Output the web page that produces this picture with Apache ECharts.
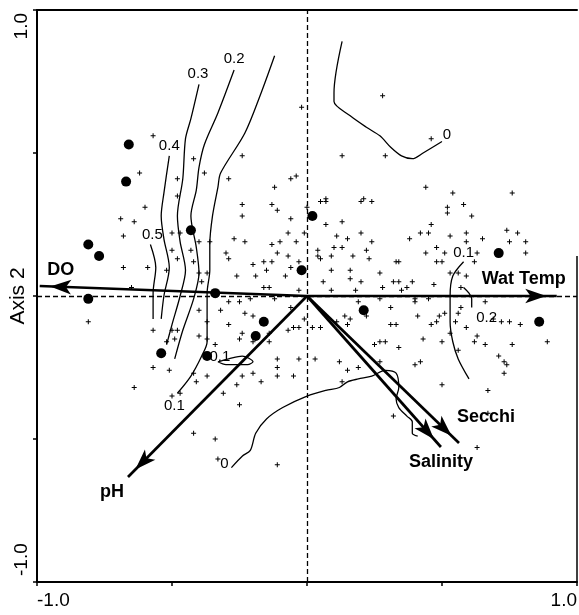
<!DOCTYPE html>
<html>
<head>
<meta charset="utf-8">
<script src="https://cdn.jsdelivr.net/npm/echarts@6/dist/echarts.min.js"></script>
<style>
  html, body { margin: 0; padding: 0; background: #fff; }
  #c { width: 579px; height: 615px; }
</style>
</head>
<body>
<div id="c"></div>
<script>
// ---- axis settings ----
const axisMin = -1, axisMax = 1, tickStep = 0.5;
const xEndLabels = ['-1.0', '1.0'];
const yEndLabels = ['-1.0', '1.0'];
const xName = 'Axis 1', yName = 'Axis 2';

// ---- sample scores (+) on CCA axes 1 and 2 ----
const sites = [
  [-0.57,0.56],[-0.42,0.48],[-0.62,0.43],[-0.48,0.41],[-0.60,0.31],[-0.48,0.35],[-0.69,0.27],[-0.64,0.26],
  [-0.68,0.21],[-0.50,0.22],[-0.47,0.22],[-0.50,0.16],[-0.48,0.13],[-0.43,0.16],[-0.42,0.12],[-0.40,0.08],
  [-0.52,0.09],[-0.68,0.10],[-0.65,0.03],[-0.40,0.19],[-0.40,-0.05],[-0.57,-0.12],[-0.50,-0.12],[-0.48,-0.12],
  [-0.49,-0.15],[-0.52,-0.16],[-0.57,-0.25],[-0.51,-0.26],[-0.42,-0.27],[-0.64,-0.32],[-0.47,-0.34],[-0.41,-0.30],
  [-0.40,-0.14],[-0.59,0.10],[-0.81,-0.09],[-0.50,-0.35],[-0.42,-0.48],
  [-0.02,0.66],[-0.24,0.49],[-0.29,0.41],[-0.12,0.38],[-0.06,0.41],[-0.04,0.42],[0.07,0.34],[0.21,0.34],
  [0.13,0.49],[0.29,0.49],[0.28,0.70],[-0.38,0.43],
  [0.46,0.55],[0.44,0.38],[0.54,0.36],[0.76,0.36],
  [-0.24,0.32],[-0.13,0.32],[-0.11,0.30],[0.00,0.31],[0.05,0.33],[0.07,0.33],[0.20,0.33],[0.24,0.33],
  [-0.24,0.28],[-0.06,0.27],[0.07,0.25],[0.13,0.26],[-0.07,0.22],[-0.01,0.22],[-0.27,0.20],[-0.23,0.19],
  [-0.13,0.18],[-0.10,0.19],[-0.04,0.19],[0.11,0.21],[0.15,0.20],[0.20,0.22],[0.24,0.19],[0.10,0.17],
  [0.13,0.17],[0.04,0.16],[-0.30,0.15],[-0.29,0.13],[-0.11,0.15],[-0.07,0.14],[0.04,0.14],[0.05,0.13],
  [0.09,0.14],[0.17,0.14],[0.22,0.16],[0.23,0.13],[0.33,0.12],[-0.20,0.11],[-0.16,0.12],[-0.15,0.09],
  [-0.13,0.12],[-0.06,0.10],[-0.03,0.12],[-0.19,0.07],[-0.08,0.07],[0.09,0.09],[0.16,0.09],[0.27,0.08],
  [-0.26,0.07],[0.06,0.05],[0.16,0.06],[0.20,0.05],[0.32,0.05],[-0.14,0.03],[-0.16,0.03],[-0.03,0.02],
  [0.09,0.02],[0.18,0.02],[0.28,0.03],[-0.25,-0.02],[-0.21,-0.01],[-0.12,-0.01],[-0.29,-0.02],[0.19,-0.02],
  [0.27,-0.01],[0.31,-0.04],[-0.32,-0.05],[-0.23,-0.06],[-0.20,-0.07],[-0.06,-0.04],[-0.01,-0.08],[0.02,-0.11],
  [0.05,-0.11],[-0.07,-0.12],[-0.05,-0.11],[-0.03,-0.11],[0.14,-0.07],[0.16,-0.08],[0.22,-0.07],[0.11,-0.09],
  [0.15,-0.10],[-0.24,-0.13],[-0.37,-0.09],[-0.29,-0.10],[-0.14,-0.13],[-0.20,-0.16],[-0.25,-0.15],[-0.14,-0.16],
  [-0.34,-0.17],[0.31,-0.10],[0.33,-0.10],[0.25,-0.17],[0.27,-0.16],[0.29,-0.16],[0.34,-0.18],[-0.11,-0.22],
  [-0.03,-0.22],[0.03,-0.22],[0.12,-0.23],[0.19,-0.25],[0.15,-0.26],[-0.24,-0.28],[-0.20,-0.27],[-0.11,-0.25],
  [-0.05,-0.28],[-0.37,-0.28],[-0.26,-0.31],[-0.17,-0.30],[0.13,-0.30],[-0.31,-0.34],[-0.11,-0.28],[0.27,-0.23],
  [-0.37,0.08],[-0.39,0.05],[-0.36,0.19],[-0.37,-0.15],
  [-0.25,-0.38],[-0.34,-0.50],[-0.33,-0.57],[-0.11,-0.59],[0.32,-0.42],
  [0.52,0.31],[0.52,0.29],[0.58,0.32],[0.61,0.28],[0.46,0.25],[0.42,0.22],[0.45,0.22],[0.38,0.20],
  [0.53,0.21],[0.59,0.22],[0.59,0.19],[0.65,0.20],[0.74,0.23],[0.78,0.22],[0.75,0.19],[0.81,0.19],
  [0.81,0.15],[0.44,0.15],[0.48,0.17],[0.51,0.15],[0.63,0.15],[0.48,0.12],[0.50,0.12],[0.62,0.12],
  [0.34,0.12],[0.34,0.05],[0.39,0.05],[0.37,0.03],[0.35,0.02],[0.47,0.04],[0.53,0.08],[0.56,0.08],
  [0.59,0.07],[0.57,0.03],[0.40,-0.01],[0.40,-0.02],[0.45,-0.01],[0.41,-0.07],[0.49,-0.07],[0.51,-0.06],
  [0.56,-0.06],[0.57,-0.04],[0.66,-0.02],[0.69,-0.08],[0.72,-0.09],[0.75,-0.09],[0.79,-0.10],[0.46,-0.10],
  [0.48,-0.09],[0.55,-0.09],[0.59,-0.11],[0.43,-0.15],[0.50,-0.16],[0.63,-0.14],[0.62,-0.16],[0.66,-0.17],
  [0.76,-0.17],[0.89,-0.16],[0.53,-0.13],[0.56,-0.19],[0.40,-0.24],[0.42,-0.23],[0.71,-0.21],[0.73,-0.23],
  [0.74,-0.24],[0.73,-0.27],[0.50,-0.31],[0.67,-0.33],
  [0.63,-0.53],[0.67,-0.41]
];

// ---- centroids (filled circles) ----
const centroids = [
  [-0.66,0.53],[-0.67,0.40],[-0.81,0.18],[-0.77,0.14],[-0.81,-0.01],[-0.54,-0.20],[-0.43,0.23],[-0.34,0.01],
  [-0.16,-0.09],[-0.19,-0.14],[-0.37,-0.21],[0.02,0.28],[-0.02,0.09],[0.21,-0.05],[0.71,0.15],[0.86,-0.09]
];

// ---- environmental vectors ----
const envNames = ['DO', 'Wat Temp', 'pH', 'Secchi', 'Salinity'];
const envX = [-0.99, 0.925, -0.663, 0.563, 0.496];
const envY = [0.035, 0.0, -0.633, -0.514, -0.528];

// ---- isolines of the fitted response surface ----
const iso05 = [[-0.58,0.18],[-0.56,0.10],[-0.57,0.01],[-0.57,-0.08]];
const iso04 = [[-0.51,0.49],[-0.53,0.36],[-0.54,0.28],[-0.53,0.20],[-0.51,0.10],[-0.53,0.00],[-0.54,-0.08]];
const iso03 = [[-0.40,0.74],[-0.43,0.62],[-0.45,0.55],[-0.46,0.41],[-0.48,0.28],[-0.47,0.19],[-0.45,0.09],
               [-0.47,0.00],[-0.50,-0.10],[-0.52,-0.17]];
const iso02 = [[-0.27,0.79],[-0.33,0.64],[-0.38,0.53],[-0.40,0.45],[-0.41,0.37],[-0.43,0.28],[-0.41,0.17],
               [-0.40,0.08],[-0.42,-0.01],[-0.46,-0.12],[-0.49,-0.22]];
const iso01 = [[-0.12,0.84],[-0.17,0.71],[-0.23,0.57],[-0.32,0.43],[-0.33,0.38],[-0.35,0.28],[-0.36,0.18],
               [-0.36,0.09],[-0.37,0.01],[-0.37,-0.07],[-0.37,-0.16],[-0.39,-0.21],[-0.43,-0.28],[-0.48,-0.34]];
const iso01Loop = [[-0.33,-0.23],[-0.29,-0.22],[-0.24,-0.21],[-0.20,-0.23],[-0.22,-0.24],[-0.26,-0.24],
                   [-0.30,-0.24],[-0.33,-0.23]];
const iso0Low = [[-0.28,-0.60],[-0.24,-0.56],[-0.21,-0.54],[-0.19,-0.48],[-0.15,-0.43],[-0.09,-0.39],
                 [0.00,-0.35],[0.07,-0.33],[0.12,-0.32],[0.15,-0.30],[0.19,-0.29],[0.24,-0.28],[0.29,-0.26],
                 [0.33,-0.27],[0.34,-0.32],[0.33,-0.36],[0.34,-0.39],[0.37,-0.42],[0.39,-0.44],[0.39,-0.48],
                 [0.41,-0.49]];
const iso0High = [[0.13,0.89],[0.10,0.71],[0.10,0.68],[0.16,0.63],[0.22,0.59],[0.27,0.56],[0.31,0.52],
                  [0.35,0.49],[0.39,0.48],[0.43,0.50],[0.50,0.54]];
const iso01Right = [[0.58,0.12],[0.54,0.07],[0.53,0.00],[0.53,-0.09],[0.54,-0.16],[0.56,-0.22],[0.60,-0.29]];
const iso02Right = [[0.58,0.03],[0.60,0.01],[0.61,-0.01],[0.61,-0.04]];

const isoLines = [
  { pts: iso05,      level: '0.5', at: 'start', off: [2, -10] },
  { pts: iso04,      level: '0.4', at: 'start', off: [0, -10] },
  { pts: iso03,      level: '0.3', at: 'start', off: [-1, -11] },
  { pts: iso02,      level: '0.2', at: 'start', off: [0, -11] },
  { pts: iso01,      level: '0.1', at: 'end',   off: [-3, 13] },
  { pts: iso01Loop,  level: '0.1', at: 'start', off: [2, -5] },
  { pts: iso0Low,    level: '0',   at: 'start', off: [-7, -4] },
  { pts: iso0High,   level: '0',   at: 'end',   off: [5, -7] },
  { pts: iso01Right, level: '0.1', at: 'start', off: [0, -9] },
  { pts: iso02Right, level: '0.2', at: 'end',   off: [15, 10] }
];

// label offsets (px) of vector names from their arrow tips
const envLabelOffset = [[21, -16], [-33, -17], [-16, 15], [27, -26], [0, 15]];

const FONT = '"Liberation Sans", Arial, Helvetica, sans-serif';
const plus = 'path://M2,0h1v2h2v1h-2v2h-1v-2h-2v-1h2z';
const black = '#000';
const headSize = [11, 21];

const chart = echarts.init(document.getElementById('c'), null, { renderer: 'canvas' });

const series = [];

// sample scores + zero reference lines
series.push({
  type: 'scatter', name: 'samples', data: sites, symbol: plus, symbolSize: 5,
  itemStyle: { color: black, opacity: 1 }, z: 2, silent: true,
  markLine: {
    silent: true, symbol: 'none', label: { show: false },
    lineStyle: { color: black, type: [5, 3], width: 1.3, opacity: 1 },
    emphasis: { disabled: true },
    data: [{ xAxis: 0 }, { yAxis: 0 }]
  }
});

// isolines
isoLines.forEach(c => {
  series.push({
    type: 'line', data: c.pts, showSymbol: false, smooth: 0.3, silent: true,
    lineStyle: { color: black, width: 1.3 }, z: 3
  });
});

// isoline level labels
series.push({
  type: 'scatter', symbolSize: 0, silent: true, z: 6,
  itemStyle: { opacity: 1 },
  data: isoLines.map(c => ({
    value: c.at === 'start' ? c.pts[0] : c.pts[c.pts.length - 1],
    label: { formatter: c.level, offset: c.off }
  })),
  label: { show: true, position: 'inside', color: black, fontSize: 15, fontFamily: FONT }
});

// centroids
series.push({
  type: 'scatter', data: centroids, symbol: 'circle', symbolSize: 10,
  itemStyle: { color: black, opacity: 1 }, z: 4, silent: true
});

// vector shafts
envNames.forEach((n, i) => {
  series.push({
    type: 'line', data: [[0, 0], [envX[i], envY[i]]], showSymbol: false, silent: true,
    lineStyle: { color: black, width: 2.7, cap: 'butt' }, z: 5
  });
});

// vector names, placed next to the arrow tips
series.push({
  type: 'scatter', symbolSize: 0, silent: true, z: 8,
  itemStyle: { opacity: 1 },
  data: envNames.map((n, i) => ({
    value: [envX[i], envY[i]],
    label: { formatter: n, offset: envLabelOffset[i] }
  })),
  label: { show: true, position: 'inside', color: black, fontSize: 18, fontWeight: 'bold', fontFamily: FONT }
});

// right frame edge (drawn only over the lower part of the panel)
series.push({
  type: 'line', data: [[axisMax, axisMin], [axisMax, 0.14]], showSymbol: false, silent: true,
  lineStyle: { color: black, width: 1.5 }, z: 5
});

const option = {
  animation: false,
  backgroundColor: '#fff',
  grid: { left: 37, right: 2, top: 10, bottom: 33, containLabel: false, outerBoundsMode: 'none' },
  xAxis: [{
    type: 'value', min: axisMin, max: axisMax, interval: tickStep,
    axisLine: { onZero: false, lineStyle: { color: black, width: 2 } },
    axisTick: { length: 4, lineStyle: { color: black, width: 1.5 } },
    splitLine: { show: false },
    axisLabel: {
      formatter: v => (v === axisMin ? xEndLabels[0] : (v === axisMax ? xEndLabels[1] : '')),
      color: black, fontSize: 19, fontFamily: FONT, margin: 9,
      alignMinLabel: 'left', alignMaxLabel: 'right'
    },
    name: xName, nameLocation: 'middle', nameGap: 9,
    nameTextStyle: { color: black, fontSize: 21, fontFamily: FONT, verticalAlign: 'top' }
  }, {
    type: 'value', position: 'top', min: axisMin, max: axisMax,
    axisLine: { show: true, onZero: false, lineStyle: { color: black, width: 2 } },
    axisTick: { show: false }, axisLabel: { show: false }, splitLine: { show: false }
  }],
  yAxis: [{
    type: 'value', min: axisMin, max: axisMax, interval: tickStep,
    axisLine: { onZero: false, lineStyle: { color: black, width: 2 } },
    axisTick: { length: 4, lineStyle: { color: black, width: 1.5 } },
    splitLine: { show: false },
    axisLabel: { show: false },
    name: yName, nameLocation: 'middle', nameGap: 8, nameRotate: 90,
    nameTextStyle: { color: black, fontSize: 21, fontFamily: FONT }
  }],
  series: series
};

chart.setOption(option);

// arrowheads: rotated to the on-screen direction of each vector, tip on the vector end
const o = chart.convertToPixel({ xAxisIndex: 0, yAxisIndex: 0 }, [0, 0]);
const heads = envNames.map((n, i) => {
  const p = chart.convertToPixel({ xAxisIndex: 0, yAxisIndex: 0 }, [envX[i], envY[i]]);
  const a = Math.atan2(-(p[1] - o[1]), p[0] - o[0]);
  const half = headSize[1] / 2;
  return {
    value: [envX[i], envY[i]],
    symbolRotate: a * 180 / Math.PI - 90,
    symbolOffset: [-half * Math.cos(a), half * Math.sin(a)]
  };
});

const pTop = chart.convertToPixel({ xAxisIndex: 0, yAxisIndex: 0 }, [axisMin, axisMax]);
const pBot = chart.convertToPixel({ xAxisIndex: 0, yAxisIndex: 0 }, [axisMin, axisMin]);

chart.setOption({
  series: series.concat([{
    type: 'scatter', data: heads, symbol: 'arrow', symbolSize: headSize,
    itemStyle: { color: black, opacity: 1 }, z: 7, silent: true
  }]),
  graphic: [
    { type: 'text', x: pTop[0] - 6, y: pTop[1] + 3, rotation: Math.PI / 2, silent: true,
      style: { text: yEndLabels[1], fill: black, font: '19px ' + FONT, align: 'right', verticalAlign: 'bottom' } },
    { type: 'text', x: pBot[0] - 6, y: pBot[1] - 6, rotation: Math.PI / 2, silent: true,
      style: { text: yEndLabels[0], fill: black, font: '19px ' + FONT, align: 'left', verticalAlign: 'bottom' } }
  ]
});
</script>
</body>
</html>
